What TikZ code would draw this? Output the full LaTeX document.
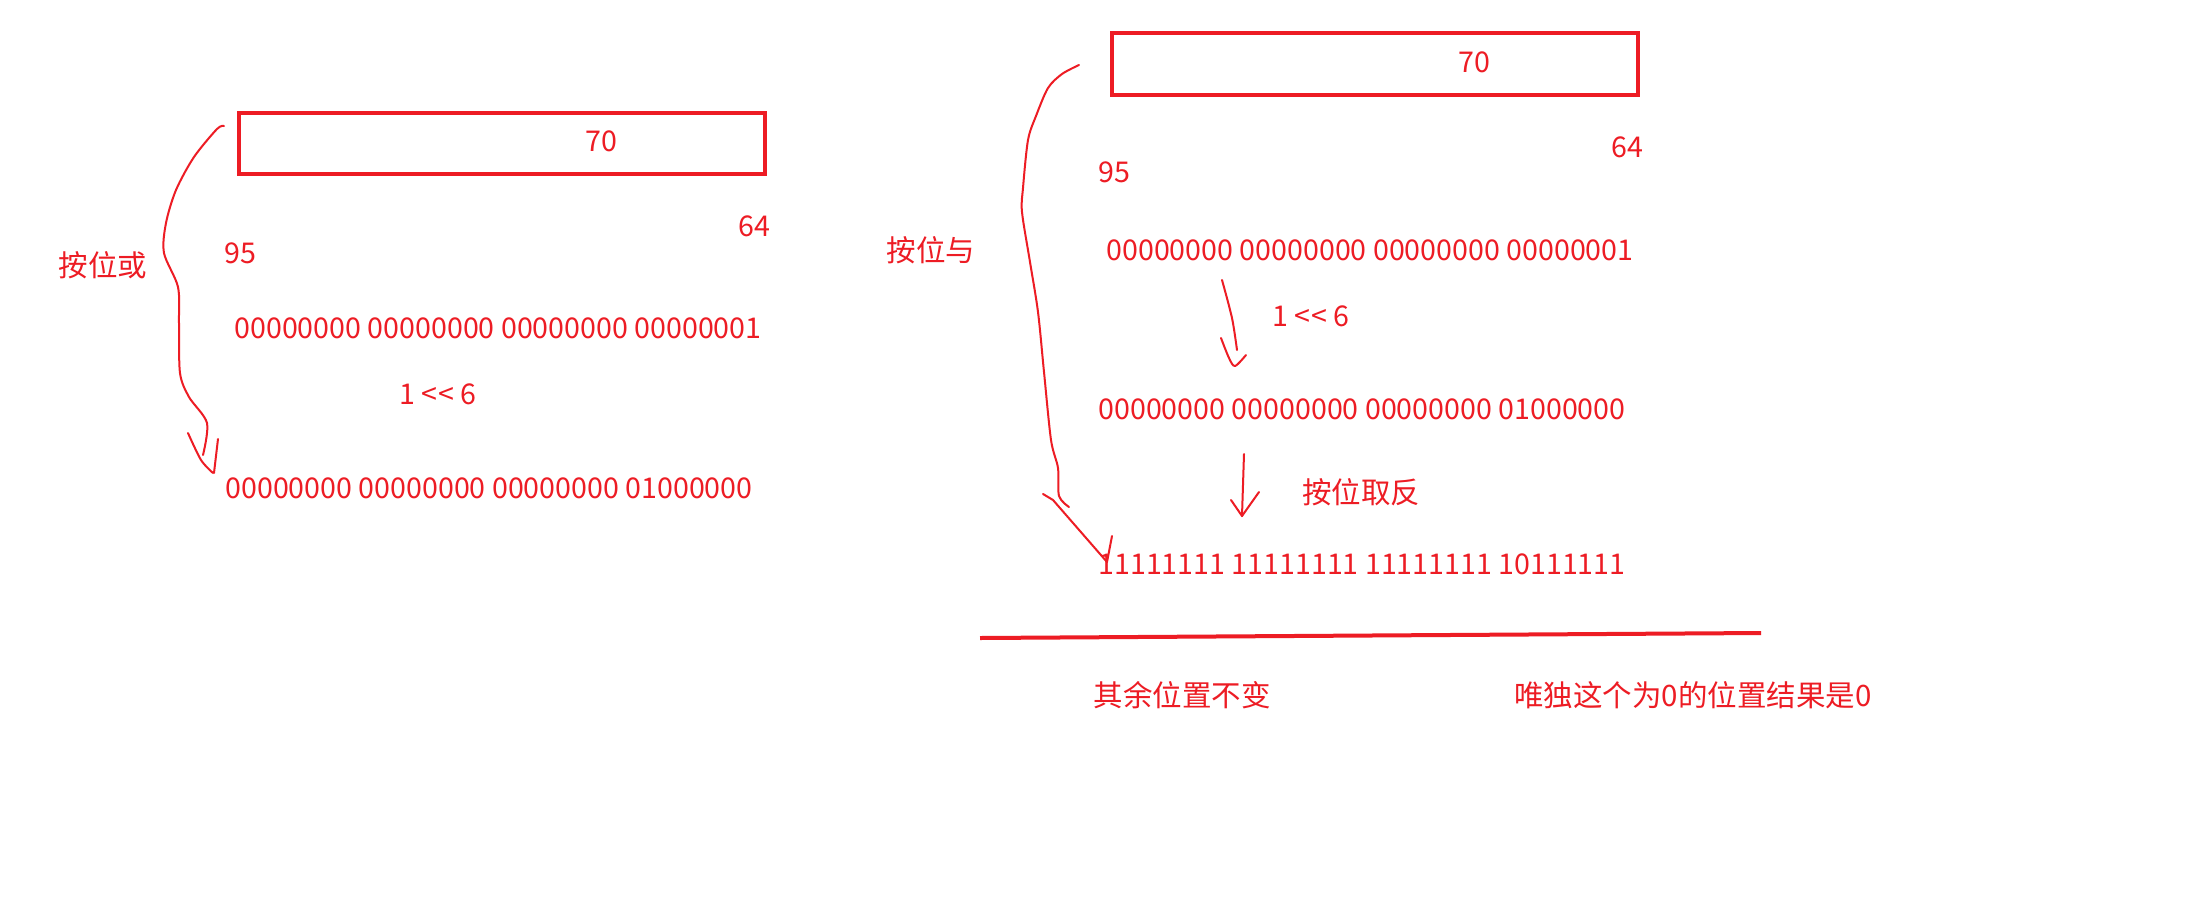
\documentclass[tikz,border=0pt]{standalone}
\usepackage{fontspec}
\setmainfont{Noto Sans CJK SC}
\definecolor{inkred}{RGB}{237,28,36}
\begin{document}
\begin{tikzpicture}[x=1pt,y=-1pt,
  lbl/.style={text=inkred, font=\fontsize{28.6}{34}\selectfont, inner sep=0pt, anchor=center},
  cjk/.style={text=inkred, font=\fontsize{29.5}{34}\selectfont, inner sep=0pt, anchor=center},
  pen/.style={draw=inkred, line width=2pt, line cap=round, line join=round},
  boxframe/.style={draw=inkred, line width=3.5pt, inner sep=0pt, anchor=north west}]
\useasboundingbox (0,0) rectangle (2212,914);
\fill[white] (0,0) rectangle (2212,914);

% ---------- left part ----------
\node[boxframe, minimum width=526pt, minimum height=61pt] (boxL) at (237,111) {};
\node[lbl] (seventyL) at (601,141) {70};
\node[lbl] (n95L) at (240,253) {95};
\node[lbl] (n64L) at (754,226) {64};
\node[cjk] (orL) at (103,265) {按位或};
\node[lbl] (rowLa) at (498,328) {00000000 00000000 00000000 00000001};
\node[lbl] (shiftL) at (438,394) {1 <\kern1pt< 6};
\node[lbl] (rowLb) at (489,488) {00000000 00000000 00000000 01000000};

\draw[pen] plot[smooth, tension=0.5] coordinates {(224,126) (217,129) (194,157) (176,190) (166,223) (164,253) (178,287) (179,323) (180,373) (189,397) (207,423) (203,455)};
\draw[pen] plot[smooth, tension=0.5] coordinates {(188,433) (201,460) (213,473)};
\draw[pen] (218,439) -- (214,473);

% ---------- right part ----------
\node[boxframe, minimum width=526pt, minimum height=62pt] (boxR) at (1110,31) {};
\node[lbl] (seventyR) at (1474,62) {70};
\node[lbl] (n95R) at (1114,172) {95};
\node[lbl] (n64R) at (1627,147) {64};
\node[cjk] (andR) at (931,250) {按位与};
\node[lbl] (rowRa) at (1370,250) {00000000 00000000 00000000 00000001};
\node[lbl] (shiftR) at (1311,316) {1 <\kern1pt< 6};
\node[lbl] (rowRb) at (1362,409) {00000000 00000000 00000000 01000000};
\node[cjk] (notR) at (1361,492) {按位取反};
\node[lbl] (rowRc) at (1362,564) {11111111 11111111 11111111 10111111};

% arrow 1 << 6
\draw[pen] plot[smooth, tension=0.5] coordinates {(1222,280) (1232,318) (1237,350)};
\draw[pen] plot[smooth, tension=0.5] coordinates {(1221,338) (1229,358) (1235,366) (1246,355)};
% arrow invert
\draw[pen] (1244,454) -- (1242,516);
\draw[pen] (1231,500) -- (1242,516) -- (1259,492);

% big curve right
\draw[pen] plot[smooth, tension=0.5] coordinates {(1079,65) (1062,74) (1048,88) (1036,116) (1028,140) (1023,188) (1022,212) (1030,262) (1038,312) (1044,372) (1051,440) (1058,468) (1059,496) (1069,507)};
\draw[pen] (1043,494) -- (1053,500) -- (1107,562);
\draw[pen] (1112,536) -- (1107,562);

% bottom line and notes
\draw[inkred, line width=4pt] (980,638) -- (1761,633);
\node[cjk] (restR) at (1182,695) {其余位置不变};
\node[cjk] (onlyR) at (1693,695) {唯独这个为0的位置结果是0};
\end{tikzpicture}
\end{document}
